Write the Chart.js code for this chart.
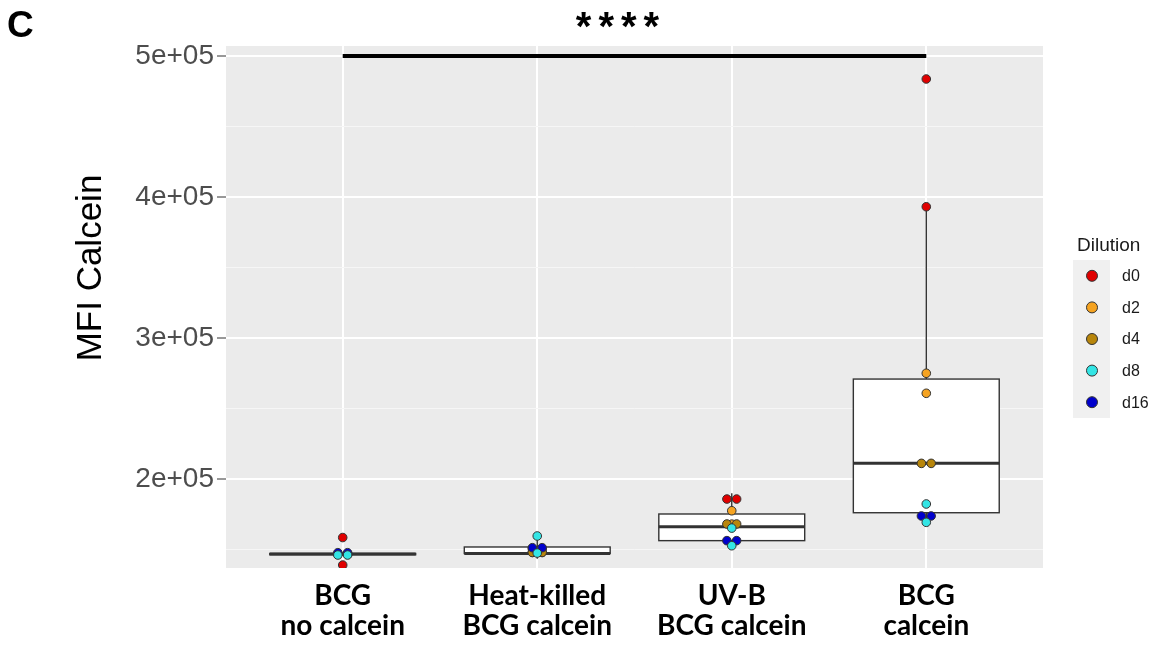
<!DOCTYPE html>
<html>
<head>
<meta charset="utf-8">
<title>MFI Calcein</title>
<script src="https://cdn.jsdelivr.net/npm/chart.js@4.4.1/dist/chart.umd.min.js"></script>
<style>
    html, body { margin: 0; padding: 0; background: #ffffff; }
    canvas { display: block; }
</style>
</head>
<body>
<canvas id="chartMfi" width="1156" height="650"></canvas>
<script>
// Conditions on the x axis (two-line labels)
const groups = [
    ['BCG', 'no calcein'],
    ['Heat-killed', 'BCG calcein'],
    ['UV-B', 'BCG calcein'],
    ['BCG', 'calcein']
];

const dilutions = ['d0', 'd2', 'd4', 'd8', 'd16'];
const dilutionColors = ['#E00000', '#F5A321', '#B8860B', '#33E5E5', '#0000CC'];

// MFI per dilution: one pair of replicates per condition
const mfiD0  = [[158500, 139000], [150500, 150500], [185800, 185800], [483700, 393100]];
const mfiD2  = [[146800, 146800], [148000, 148000], [177500, 168000], [275000, 260800]];
const mfiD4  = [[146600, 146600], [148000, 147800], [168100, 168100], [211100, 211100]];
const mfiD8  = [[146100, 146100], [159600, 147500], [165200, 152700], [182300, 169300]];
const mfiD16 = [[147700, 147800], [151300, 151300], [156300, 156300], [173800, 173800]];
const mfiByDilution = [mfiD0, mfiD2, mfiD4, mfiD8, mfiD16];

// Box statistics per condition
const boxLow    = [146300, 143500, 152500, 169300];
const boxQ1     = [146300, 147200, 156300, 176100];
const boxMedian = [146800, 147200, 166200, 211100];
const boxQ3     = [147200, 151800, 175200, 270900];
const boxHigh   = [147200, 159600, 190000, 393100];

const yTicks = [150000, 200000, 250000, 300000, 350000, 400000, 450000, 500000];
const yMin = 136900;
const yMax = 507100;

const sigLevel = 500000;
const sigText = '****';

// Dotplot-style stacking: replicates falling in the same bin sit side by side
const binWidth = 4000;
const dotStep = 0.05;

function stackedPoints(values) {
    const pts = [];
    values.forEach(function(reps, g) {
        const sorted = reps.slice().sort(function(a, b) { return a - b; });
        let bins = [];
        sorted.forEach(function(v) {
            const last = bins[bins.length - 1];
            if (last && v - last[0] <= binWidth) last.push(v);
            else bins.push([v]);
        });
        bins.forEach(function(bin) {
            const mean = bin.reduce(function(s, v) { return s + v; }, 0) / bin.length;
            bin.forEach(function(v, i) {
                pts.push({ x: g + 1 + (i - (bin.length - 1) / 2) * dotStep, y: mean });
            });
        });
    });
    return pts;
}

function sciLabel(v) {
    const parts = v.toExponential(0).split('e');
    const exp = parts[1];
    return parts[0] + 'e' + exp[0] + exp.slice(1).padStart(2, '0');
}

const isMajor = function(v) { return v % 100000 === 0; };

// Grey panel background
const panelBg = {
    id: 'panelBg',
    beforeDraw(chart) {
        const a = chart.chartArea, ctx = chart.ctx;
        ctx.save();
        ctx.fillStyle = '#EBEBEB';
        ctx.fillRect(a.left, a.top, a.right - a.left, a.bottom - a.top);
        ctx.restore();
    }
};

// Box and whiskers under the dots
const boxes = {
    id: 'boxes',
    beforeDatasetsDraw(chart) {
        const ctx = chart.ctx, xs = chart.scales.x, ys = chart.scales.y;
        ctx.save();
        ctx.strokeStyle = '#333333';
        groups.forEach(function(g, i) {
            const cx = xs.getPixelForValue(i + 1);
            const half = xs.getPixelForValue(i + 1.375) - cx;
            const yLo = ys.getPixelForValue(boxLow[i]);
            const yQ1 = ys.getPixelForValue(boxQ1[i]);
            const yMed = ys.getPixelForValue(boxMedian[i]);
            const yQ3 = ys.getPixelForValue(boxQ3[i]);
            const yHi = ys.getPixelForValue(boxHigh[i]);
            ctx.lineWidth = 1.4;
            ctx.beginPath();
            ctx.moveTo(cx, yHi); ctx.lineTo(cx, yQ3);
            ctx.moveTo(cx, yQ1); ctx.lineTo(cx, yLo);
            ctx.stroke();
            ctx.fillStyle = '#FFFFFF';
            ctx.fillRect(cx - half, yQ3, half * 2, yQ1 - yQ3);
            ctx.strokeRect(cx - half, yQ3, half * 2, yQ1 - yQ3);
            ctx.lineWidth = 3;
            ctx.beginPath();
            ctx.moveTo(cx - half, yMed); ctx.lineTo(cx + half, yMed);
            ctx.stroke();
        });
        ctx.restore();
    }
};

// Significance bar, titles and legend
const annotations = {
    id: 'annotations',
    afterDraw(chart) {
        const ctx = chart.ctx, xs = chart.scales.x, ys = chart.scales.y;
        ctx.save();

        const yBar = ys.getPixelForValue(sigLevel);
        ctx.strokeStyle = '#000000';
        ctx.lineWidth = 4;
        ctx.beginPath();
        ctx.moveTo(xs.getPixelForValue(1), yBar);
        ctx.lineTo(xs.getPixelForValue(groups.length), yBar);
        ctx.stroke();

        ctx.fillStyle = '#000000';
        ctx.font = 'bold 40px "Liberation Sans", Arial, sans-serif';
        ctx.textAlign = 'center';
        ctx.textBaseline = 'alphabetic';
        if ('letterSpacing' in ctx) ctx.letterSpacing = '7px';
        ctx.fillText(sigText, 621, 40);
        if ('letterSpacing' in ctx) ctx.letterSpacing = '0px';

        ctx.textAlign = 'left';
        ctx.font = 'bold 37px "Liberation Sans", Arial, sans-serif';
        ctx.fillText('C', 7, 37);

        // y axis title
        ctx.save();
        ctx.translate(101, 268);
        ctx.rotate(-Math.PI / 2);
        ctx.textAlign = 'center';
        ctx.font = '35px "Liberation Sans", Arial, sans-serif';
        ctx.fillText('MFI Calcein', 0, 0);
        ctx.restore();

        // legend
        ctx.fillStyle = '#1A1A1A';
        ctx.font = '19px "Liberation Sans", Arial, sans-serif';
        ctx.textAlign = 'left';
        ctx.fillText('Dilution', 1077, 251);
        const keyTop = 260, keyH = 31.6;
        ctx.fillStyle = '#F0F0F0';
        ctx.fillRect(1073, keyTop, 37, keyH * dilutions.length);
        dilutions.forEach(function(d, i) {
            const cy = keyTop + keyH * (i + 0.5);
            ctx.beginPath();
            ctx.arc(1092, cy, 5.5, 0, Math.PI * 2);
            ctx.fillStyle = dilutionColors[i];
            ctx.fill();
            ctx.lineWidth = 1;
            ctx.strokeStyle = '#333333';
            ctx.stroke();
            ctx.fillStyle = '#1A1A1A';
            ctx.font = '16px "Liberation Sans", Arial, sans-serif';
            ctx.textBaseline = 'middle';
            ctx.fillText(d, 1122, cy + 1);
        });
        ctx.restore();
    }
};

const drawOrder = [4, 3, 2, 0, 1];

new Chart(document.getElementById('chartMfi').getContext('2d'), {
    type: 'scatter',
    data: {
        datasets: dilutions.map(function(d, i) {
            return {
                label: d,
                data: stackedPoints(mfiByDilution[i]),
                backgroundColor: dilutionColors[i],
                borderColor: '#333333',
                borderWidth: 1,
                pointRadius: 4.3,
                order: drawOrder[i]
            };
        })
    },
    options: {
        responsive: false,
        animation: false,
        layout: { padding: { top: 46, right: 113, bottom: 0, left: 0 } },
        plugins: {
            legend: { display: false },
            tooltip: { enabled: false }
        },
        scales: {
            x: {
                type: 'linear',
                min: 0.4,
                max: 4.6,
                afterBuildTicks: function(axis) {
                    axis.ticks = groups.map(function(g, i) { return { value: i + 1 }; });
                },
                afterFit: function(axis) { axis.height = 82; },
                ticks: {
                    callback: function(v, idx) { return groups[idx]; },
                    color: '#000000',
                    font: { family: 'Lato', weight: 'bold', size: 28, lineHeight: 1.08 },
                    padding: 13,
                    maxRotation: 0
                },
                grid: { color: '#FFFFFF', lineWidth: 2, drawTicks: false },
                border: { display: false }
            },
            y: {
                min: yMin,
                max: yMax,
                afterBuildTicks: function(axis) {
                    axis.ticks = yTicks.map(function(v) { return { value: v }; });
                },
                afterFit: function(axis) { axis.width = 226; },
                ticks: {
                    callback: function(v) { return isMajor(v) ? sciLabel(v) : ''; },
                    color: '#4D4D4D',
                    font: { family: '"Liberation Sans", Arial, sans-serif', size: 28 },
                    padding: 3
                },
                grid: {
                    color: function(c) { return isMajor(c.tick.value) ? '#FFFFFF' : '#F6F6F6'; },
                    lineWidth: function(c) { return isMajor(c.tick.value) ? 2 : 1; },
                    tickColor: function(c) { return isMajor(c.tick.value) ? '#333333' : 'rgba(0,0,0,0)'; },
                    tickLength: 9,
                    tickWidth: 1
                },
                border: { display: false }
            }
        }
    },
    plugins: [panelBg, boxes, annotations]
});
</script>
</body>
</html>
